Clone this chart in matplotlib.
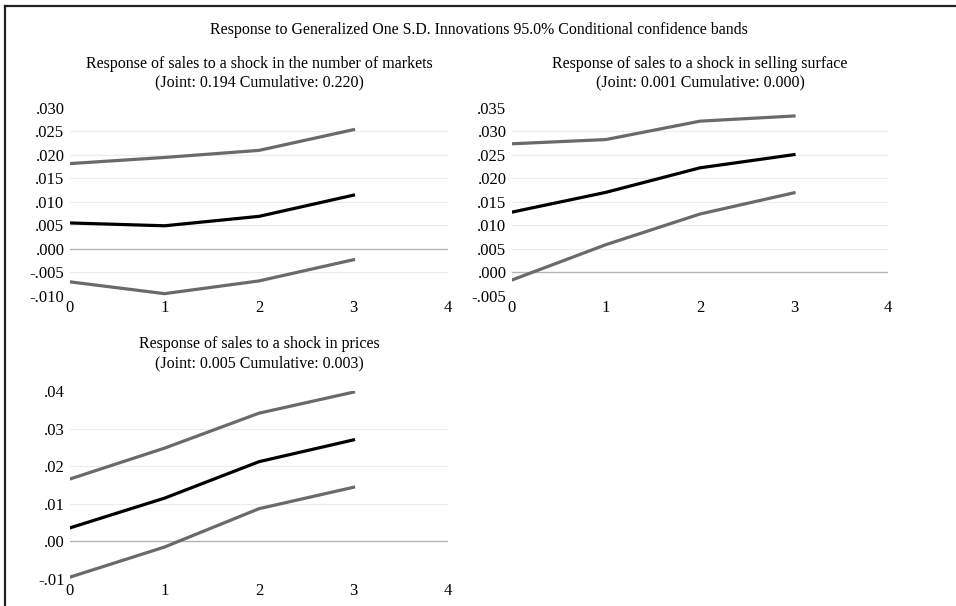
import matplotlib
matplotlib.use("Agg")
import matplotlib.pyplot as plt
from matplotlib.lines import Line2D

plt.rcParams['font.family'] = ['Liberation Serif', 'DejaVu Serif']

periods = [0, 1, 2, 3]

# panel 1: number of markets
markets_resp = [0.0055, 0.0049, 0.0069, 0.0114]
markets_upper = [0.0181, 0.0194, 0.0209, 0.0253]
markets_lower = [-0.0070, -0.0095, -0.0068, -0.0023]

# panel 2: selling surface
surface_resp = [0.0128, 0.0170, 0.0222, 0.0250]
surface_upper = [0.0273, 0.0282, 0.0321, 0.0332]
surface_lower = [-0.0016, 0.0059, 0.0124, 0.0169]

# panel 3: prices
prices_resp = [0.0036, 0.0115, 0.0212, 0.0270]
prices_upper = [0.0166, 0.0248, 0.0341, 0.0397]
prices_lower = [-0.0095, -0.0015, 0.0087, 0.0144]

main_title = "Response to Generalized One S.D. Innovations 95.0% Conditional confidence bands"
titles = ["Response of sales to a shock in the number of markets\n(Joint: 0.194 Cumulative: 0.220)",
          "Response of sales to a shock in selling surface\n(Joint: 0.001 Cumulative: 0.000)",
          "Response of sales to a shock in prices\n(Joint: 0.005 Cumulative: 0.003)"]
yticks_1 = [-0.010, -0.005, 0.000, 0.005, 0.010, 0.015, 0.020, 0.025, 0.030]
yticks_2 = [-0.005, 0.000, 0.005, 0.010, 0.015, 0.020, 0.025, 0.030, 0.035]
yticks_3 = [-0.01, 0.00, 0.01, 0.02, 0.03, 0.04]
xticks = [0, 1, 2, 3, 4]

W, H = 956, 606
fig = plt.figure(figsize=(W / 100, H / 100), dpi=100)

# frame lines (top and left)
fig.add_artist(Line2D([5 / W, 5 / W], [0, 1 - 6 / H], color='#222222', lw=1.6, transform=fig.transFigure))
fig.add_artist(Line2D([5 / W, 1], [1 - 6 / H, 1 - 6 / H], color='#222222', lw=1.6, transform=fig.transFigure))

fig.text(479 / W, 1 - 30 / H, main_title, ha='center', va='center', fontsize=11.4)


def make_panel(px_left, px_right, px_top, px_bottom, resp, upper, lower, yticks, ndec, title, tpad):
    ax = fig.add_axes([px_left / W, 1 - px_bottom / H, (px_right - px_left) / W, (px_bottom - px_top) / H])
    for y in yticks[1:-1]:
        if abs(y) < 1e-12:
            ax.axhline(y, color='#b4b4b4', lw=1.0, zorder=1)
        else:
            ax.axhline(y, color='#ececec', lw=0.8, zorder=1)
    ax.plot(periods, upper, color='#6a6a6a', lw=2.3, zorder=3)
    ax.plot(periods, lower, color='#6a6a6a', lw=2.3, zorder=3)
    ax.plot(periods, resp, color='black', lw=2.3, zorder=4)
    ax.set_xlim(0, 4)
    ax.set_ylim(yticks[0], yticks[-1])
    ax.set_xticks(xticks)
    ax.set_yticks(yticks)
    labels = []
    for y in yticks:
        s = f"{y:.{ndec}f}"
        s = s.replace("0.", ".", 1)
        labels.append(s)
    ax.set_yticklabels(labels)
    ax.tick_params(length=0, labelsize=12, pad=4)
    ax.tick_params(axis='x', pad=3)
    for sp in ax.spines.values():
        sp.set_visible(False)
    ax.set_title(title, fontsize=11.5, linespacing=1.25, pad=tpad)
    return ax


make_panel(70, 448, 107.5, 296, markets_resp, markets_upper, markets_lower, yticks_1, 3, titles[0], 15)
make_panel(512, 888, 107.5, 296, surface_resp, surface_upper, surface_lower, yticks_2, 3, titles[1], 15)
make_panel(70, 448, 391, 579, prices_resp, prices_upper, prices_lower, yticks_3, 2, titles[2], 17)

fig.savefig("out.png", dpi=100)
